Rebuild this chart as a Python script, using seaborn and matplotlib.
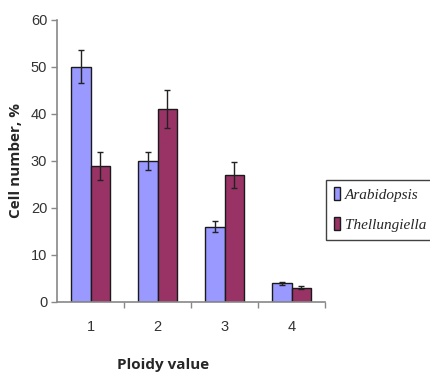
import matplotlib
matplotlib.use("Agg")
import matplotlib.pyplot as plt
import seaborn as sns
import pandas as pd
import numpy as np
from matplotlib.patches import Patch

categories = ["1", "2", "3", "4"]
series = ["Arabidopsis", "Thellungiella"]
arabidopsis = [50, 30, 16, 4]
thellungiella = [29, 41, 27, 3]
arab_err = [3.5, 2.0, 1.2, 0.3]
thel_err = [3.0, 4.0, 2.7, 0.3]
colors = ["#9999FF", "#993366"]

df = pd.DataFrame({
    "Ploidy": categories * 2,
    "Species": [series[0]] * 4 + [series[1]] * 4,
    "Value": arabidopsis + thellungiella,
})
errs = {series[0]: arab_err, series[1]: thel_err}

sns.set_style("white")
fig = plt.figure(figsize=(4.3, 3.76), dpi=100)
ax = fig.add_axes([0.1326, 0.197, 0.6234, 0.75])

sns.barplot(data=df, x="Ploidy", y="Value", hue="Species", order=categories,
            hue_order=series, palette=colors, saturation=1, errorbar=None, width=0.58,
            edgecolor="#1a1a1a", linewidth=1.0, ax=ax, legend=False)

for container, name in zip(ax.containers, series):
    xs = [p.get_x() + p.get_width() / 2 for p in container.patches]
    ys = [p.get_height() for p in container.patches]
    ax.errorbar(xs, ys, yerr=errs[name], fmt="none", ecolor="#222222",
                elinewidth=1.0, capsize=2.5, capthick=1.0)

ax.set_ylim(0, 60)
ax.set_xlim(-0.5, 3.5)
ax.set_yticks(range(0, 61, 10))
ax.set_xticks(range(4))
ax.set_xticklabels(categories)
ax.set_xticks([0.5, 1.5, 2.5, 3.5], minor=True)
ax.tick_params(axis="x", which="major", length=0, pad=13, labelsize=10.5, labelcolor="#333333")
ax.tick_params(axis="x", which="minor", length=4, width=1, color="#888888", direction="out", bottom=True)
ax.tick_params(axis="y", length=4, width=1, color="#888888", direction="out", left=True,
               labelsize=10.5, labelcolor="#333333", pad=3)
for lbl in ax.get_xticklabels() + ax.get_yticklabels():
    lbl.set_family("Liberation Sans")

sns.despine(ax=ax)
for s in ["left", "bottom"]:
    ax.spines[s].set_color("#888888")
    ax.spines[s].set_linewidth(1.2)

ax.set_ylabel("Cell number, %", fontsize=11, fontweight="bold", family="Open Sans", labelpad=6)
ax.set_xlabel("")
fig.text(0.38, 0.03, "Ploidy value", fontsize=11, fontweight="bold", family="Open Sans",
         ha="center", va="center")

handles = [Patch(facecolor=c, edgecolor="#1a1a1a", linewidth=1.0) for c in colors]
leg = fig.legend(handles, series, loc="upper left", bbox_to_anchor=(0.758, 0.522),
                 frameon=True, fancybox=False, edgecolor="#111111",
                 prop={"family": "Liberation Serif", "style": "italic", "size": 11},
                 handlelength=0.45, handleheight=0.9, handletextpad=0.3,
                 borderpad=0.5, labelspacing=1.0, borderaxespad=0)
leg.get_frame().set_linewidth(1.0)

fig.savefig("out.png", dpi=100)
